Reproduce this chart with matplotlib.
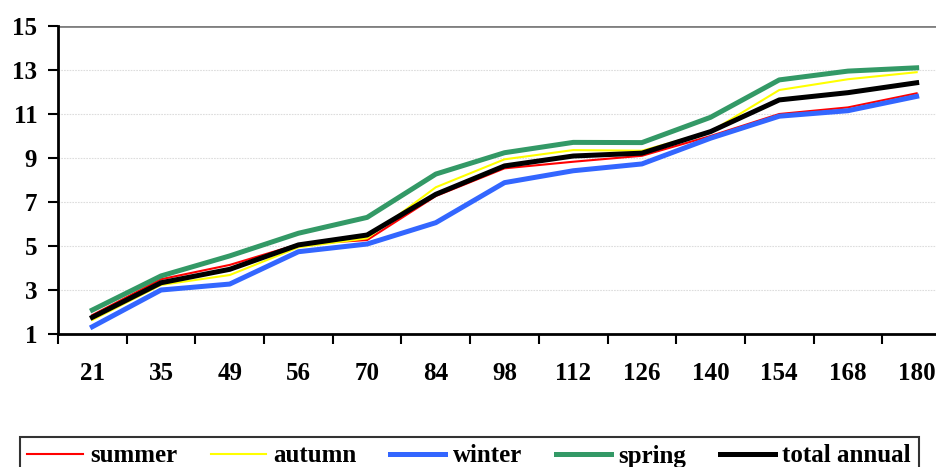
import matplotlib
matplotlib.use("Agg")
import matplotlib.pyplot as plt
import numpy as np

# days after planting (category axis)
days = ["21", "35", "49", "56", "70", "84", "98", "112", "126", "140", "154", "168", "180"]

summer = [1.86, 3.49, 4.14, 5.08, 5.27, 7.27, 8.53, 8.83, 9.10, 10.00, 11.00, 11.30, 11.94]
autumn = [1.64, 3.23, 3.68, 4.94, 5.35, 7.67, 8.94, 9.36, 9.33, 10.20, 12.09, 12.58, 12.90]
winter = [1.33, 3.00, 3.27, 4.74, 5.09, 6.06, 7.88, 8.42, 8.73, 9.90, 10.90, 11.15, 11.80]
spring = [2.09, 3.64, 4.55, 5.58, 6.30, 8.27, 9.24, 9.71, 9.70, 10.85, 12.55, 12.95, 13.10]
total = [1.76, 3.33, 3.94, 5.05, 5.50, 7.35, 8.64, 9.09, 9.22, 10.20, 11.64, 11.97, 12.42]

plt.rcParams['font.family'] = ['Liberation Serif', 'DejaVu Serif']
plt.rcParams['font.weight'] = 'bold'

W, H = 937, 467
fig = plt.figure(figsize=(W / 100, H / 100), dpi=100)
ax = fig.add_axes([58 / W, 133 / H, 893 / W, 308 / H])

x = np.arange(len(days))
ax.plot(x, summer, color='#ff0000', lw=1.5, label='summer', zorder=3)
ax.plot(x, autumn, color='#ffff00', lw=1.5, label='autumn', zorder=3)
ax.plot(x, winter, color='#3366ff', lw=3.6, label='winter', zorder=3)
ax.plot(x, spring, color='#339966', lw=3.6, label='spring', zorder=3)
ax.plot(x, total, color='#000000', lw=3.6, label='total annual', zorder=4)

ax.set_xlim(-0.5, len(days) - 0.5)
ax.set_ylim(1, 15)
ax.set_yticks([1, 3, 5, 7, 9, 11, 13, 15])
for v in [3, 5, 7, 9, 11, 13]:
    ax.axhline(v, color='#dddddd', lw=0.8, ls=(0, (1.5, 1)), zorder=1)
ax.axhline(15, color='#808080', lw=2, zorder=2)

# ticks between categories, labels at centres
ax.set_xticks(np.arange(len(days) + 1) - 0.5)
ax.set_xticklabels([])
ax.set_xticks(x, minor=True)
ax.set_xticklabels(days, minor=True)
ax.tick_params(axis='x', which='major', length=7, width=1.5, direction='out')
ax.tick_params(axis='x', which='minor', length=0, pad=20, labelsize=18)
ax.tick_params(axis='y', length=7, width=1.5, direction='out', labelsize=18, pad=8)

for s in ['top', 'right']:
    ax.spines[s].set_visible(False)
for s in ['left', 'bottom']:
    ax.spines[s].set_linewidth(2)

leg = fig.legend(loc='upper left', bbox_to_anchor=(20 / W, 1 - 437 / H), ncol=5,
                 frameon=True, fancybox=False, edgecolor='black', fontsize=18,
                 handlelength=2.2, columnspacing=1.35, handletextpad=0.3,
                 borderpad=0.3, borderaxespad=0)
leg.get_frame().set_linewidth(1.5)

fig.savefig('out.png', dpi=100)
